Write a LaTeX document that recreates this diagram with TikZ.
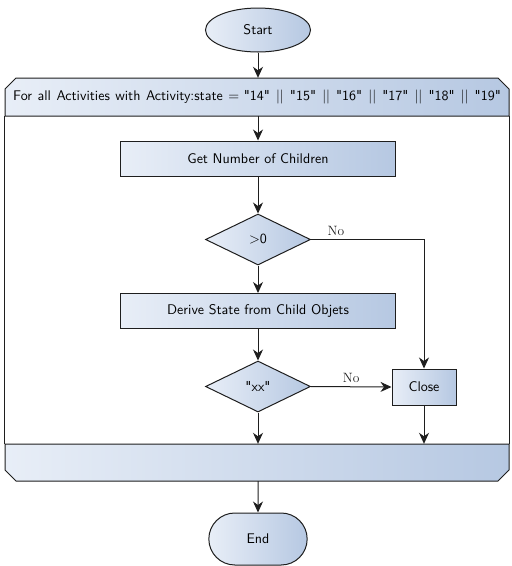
\documentclass[tikz,border=0pt]{standalone}
\usepackage{fontspec}
\setsansfont{lmsans10-regular.otf}[Ligatures=TeXOff, BoldFont=lmsans10-bold.otf]
\usepackage{xcolor}
\usepackage{tikz}
\usetikzlibrary{shapes.geometric, shapes.misc, arrows.meta, positioning, calc}
\definecolor{flowlight}{RGB}{232,238,247}
\definecolor{flowdark}{RGB}{182,200,226}
\definecolor{flowline}{RGB}{30,30,30}
\tikzset{
  shaded/.style={shading=axis, left color=flowlight, right color=flowdark,
    shading angle=90, draw=flowline, line width=1pt, font=\sffamily\fontsize{14}{16}\selectfont},
  terminal/.style={shaded, ellipse, minimum width=105pt, minimum height=44pt},
  endterm/.style={shaded, rounded rectangle, minimum width=105pt, minimum height=52pt},
  process/.style={shaded, rectangle, minimum width=275pt, minimum height=35pt},
  smallproc/.style={shaded, rectangle, minimum width=64pt, minimum height=36pt},
  decision/.style={shaded, diamond, minimum width=105pt, minimum height=51pt,
    inner sep=0pt, aspect=2},
  loopshape/.style={shaded, line join=miter},
  looptext/.style={rectangle, minimum width=504pt, minimum height=38pt, inner sep=0pt,
    font=\sffamily\fontsize{14}{16}\selectfont},
  arrow/.style={-{Stealth[length=11pt, width=10pt, inset=3.5pt]}, line width=1pt, color=flowline},
  line/.style={line width=1pt, color=flowline},
  lbl/.style={font=\rmfamily\fontsize{13.5}{15}\selectfont, text=flowline}
}

\begin{document}
\begin{tikzpicture}[x=1pt, y=-1pt]
  \useasboundingbox (0,0) rectangle (512,566);

  % Start
  \node[terminal] (start) at (258,30) {Start};

  % Loop header, chamfered on top
  \path[loopshape] (5,116) -- (5,89) -- (16,78) -- (498,78) -- (509,89) -- (509,116) -- cycle;
  \node[looptext] (head) at (257,97)
    {\makebox[226pt][s]{For all Activities with Activity:state =}\ \makebox[257pt][s]{"14" || "15" || "16" || "17" || "18" || "19"}};

  % Loop body
  \node[process] (children) at (258,158.5) {Get Number of Children};
  \node[decision] (gtzero) at (258,239.5) {>0};
  \node[process] (derive) at (258,311) {Derive State from Child Objets};
  \node[decision] (xx) at (258,386.5) {"xx"};
  \node[smallproc] (close) at (424,387) {Close};

  % Loop footer, chamfered at the bottom
  \path[loopshape] (5,444) -- (5,470) -- (16,481) -- (498,481) -- (509,470) -- (509,444) -- cycle;
  \node[looptext, minimum height=37pt] (foot) at (257,462.5) {};

  % End
  \node[endterm] (end) at (258,539) {End};

  % Side walls of the loop
  \draw[line] (head.south west) -- (foot.north west);
  \draw[line] (head.south east) -- (foot.north east);

  % Connectors
  \draw[arrow] (start) -- (start |- head.north);
  \draw[arrow] (children |- head.south) -- (children);
  \draw[arrow] (children) -- (gtzero);
  \draw[arrow] (gtzero) -- (derive);
  \draw[arrow] (derive) -- (xx);
  \draw[arrow] (gtzero.east) -| node[lbl, above, pos=0.11] {No} (close.north);
  \draw[arrow] (xx.east) -- node[lbl, above] {No} (close.west);
  \draw[arrow] (xx.south) -- (xx.south |- foot.north);
  \draw[arrow] (close.south) -- (close.south |- foot.north);
  \draw[arrow] (start |- foot.south) -- (end);
\end{tikzpicture}
\end{document}
